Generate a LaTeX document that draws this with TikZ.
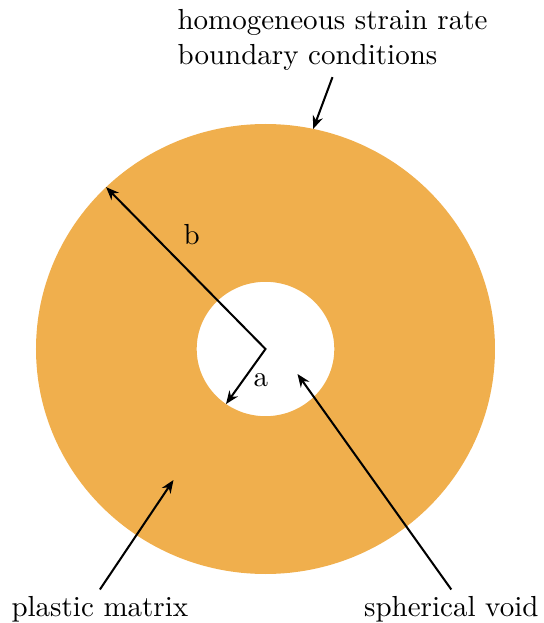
\documentclass[tikz,border=0pt]{standalone}
\usepackage{xcolor}
\usepackage{tikz}
\usetikzlibrary{arrows.meta, positioning}
\definecolor{matrixorange}{RGB}{240, 175, 77}
\tikzset{
    ring/.style={fill=matrixorange, even odd rule},
    lbl/.style={inner sep=2pt},
    arr/.style={line width=0.7pt, ->, color=black},
}

\begin{document}
\begin{tikzpicture}[x=0.3448pt, y=0.3448pt, >={Stealth[length=4.5pt, width=3.6pt]}]
    \useasboundingbox (-265.5,-274) rectangle (277.5,349);

    % Matrix ring round the void
    \fill[ring] (0,0) ellipse [x radius=229.5, y radius=225]
                (0,0) ellipse [x radius=68.8, y radius=67.2];

    \coordinate (ctr) at (0,0);
    \coordinate (outer) at (134:229.5 and 225);
    \coordinate (inner) at (235:68.8 and 67.2);
    \coordinate (bound) at (78:229.5 and 225);
    \coordinate (inmatrix) at (-92,-131);
    \coordinate (invoid) at (32,-25);

    % Labels
    \node[lbl, align=left] (bc) at (67,308.7) {homogeneous strain rate\\boundary conditions};
    \node[lbl, anchor=base] (pm) at (-165.6,-267) {plastic matrix};
    \node[lbl, anchor=base] (sv) at (185.8,-267) {spherical void};

    % Radii
    \draw[arr, <->] (outer) -- node[pos=0.42, above right] {b} (ctr)
                            -- node[pos=0.57, right] {a} (inner);

    % Pointers
    \draw[arr] (bc.south) -- (bound);
    \draw[arr] (pm.north) -- (inmatrix);
    \draw[arr] (sv.north) -- (invoid);
\end{tikzpicture}
\end{document}
